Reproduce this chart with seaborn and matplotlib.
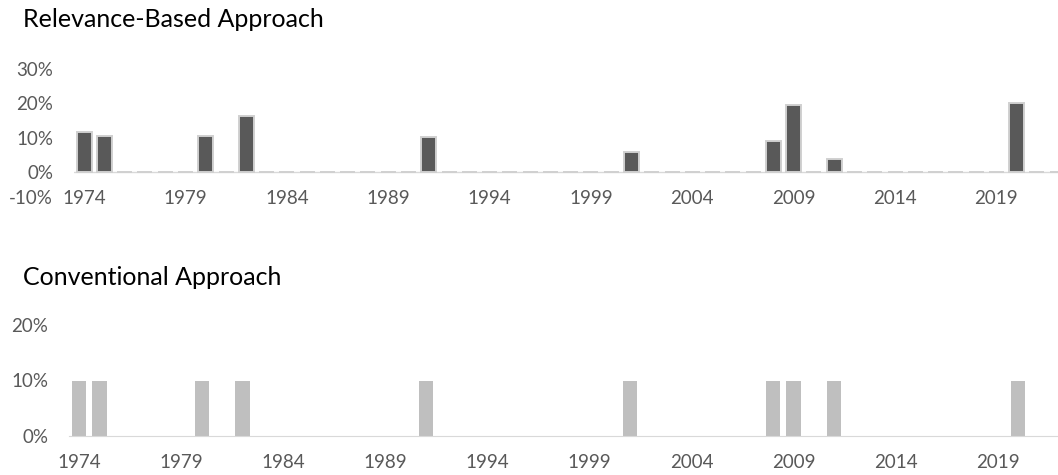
import pandas as pd
import matplotlib
matplotlib.use('Agg')
import matplotlib.pyplot as plt
import seaborn as sns

years = list(range(1974, 2023))
hit_years = [1974, 1975, 1980, 1982, 1991, 2001, 2008, 2009, 2011, 2020]
relevance_vals = [0.118, 0.106, 0.106, 0.164, 0.102, 0.060, 0.092, 0.196, 0.039, 0.201]
conventional_vals = [0.10, 0.10, 0.10, 0.10, 0.10, 0.10, 0.10, 0.10, 0.10, 0.10]
tick_years = list(range(1974, 2020, 5))

rel_map = dict(zip(hit_years, relevance_vals))
conv_map = dict(zip(hit_years, conventional_vals))
df_rel = pd.DataFrame({'ano': [str(y) for y in years],
                       'valor': [rel_map.get(y, 0.0) for y in years]})
df_conv = pd.DataFrame({'ano': [str(y) for y in years],
                        'valor': [conv_map.get(y, 0.0) for y in years]})

sns.set_style('white')
plt.rcParams['font.family'] = ['Lato', 'DejaVu Sans']

W, H = 1058, 475
fig = plt.figure(figsize=(W / 100, H / 100), dpi=100)

texto = '#595959'
fs = 13.5

# painel de cima
ax1 = fig.add_axes([74 / W, 1 - 179 / H, (W - 74) / W, 110 / H])
sns.barplot(x='ano', y='valor', data=df_rel, ax=ax1, color='#595959', saturation=1,
            width=0.74, edgecolor='#d0d0d0', linewidth=1.4)
ax1.axhline(0, color='#d9d9d9', lw=1, zorder=0)
ax1.set_ylim(-0.02, 0.30)
ax1.set_xlim(-0.5, 48.04)
ax1.set_yticks([0, 0.1, 0.2, 0.3])
ax1.set_yticklabels(['0%', '10%', '20%', '30%'])

# painel de baixo
ax2 = fig.add_axes([69 / W, 1 - 436 / H, (W - 69) / W, 111 / H])
sns.barplot(x='ano', y='valor', data=df_conv, ax=ax2, color='#bfbfbf', saturation=1,
            width=0.70, linewidth=0)
ax2.set_ylim(0, 0.20)
ax2.set_xlim(-0.5, 47.96)
ax2.set_yticks([0, 0.1, 0.2])
ax2.set_yticklabels(['0%', '10%', '20%'])

for ax in (ax1, ax2):
    for s in ['top', 'right', 'left']:
        ax.spines[s].set_visible(False)
    ax.set_xlabel('')
    ax.set_ylabel('')
    ax.set_xticks([y - 1974 for y in tick_years])
    ax.set_xticklabels([str(y) for y in tick_years])
    ax.tick_params(axis='both', length=0, labelsize=fs, labelcolor=texto)
    ax.tick_params(axis='y', pad=15)
    ax.grid(False)

ax1.spines['bottom'].set_visible(False)
ax1.tick_params(axis='x', pad=8)
ax2.spines['bottom'].set_visible(True)
ax2.spines['bottom'].set_color('#d9d9d9')
ax2.tick_params(axis='x', pad=13)

fig.text(53 / W, 1 - 198 / H, '-10%', ha='right', va='center', fontsize=fs, color=texto)

fig.text(23 / W, 1 - 27 / H, 'Relevance-Based Approach', ha='left', va='baseline',
         fontsize=18, color='#000000')
fig.text(23 / W, 1 - 285 / H, 'Conventional Approach', ha='left', va='baseline',
         fontsize=18, color='#000000')

fig.savefig('out.png', dpi=100)
